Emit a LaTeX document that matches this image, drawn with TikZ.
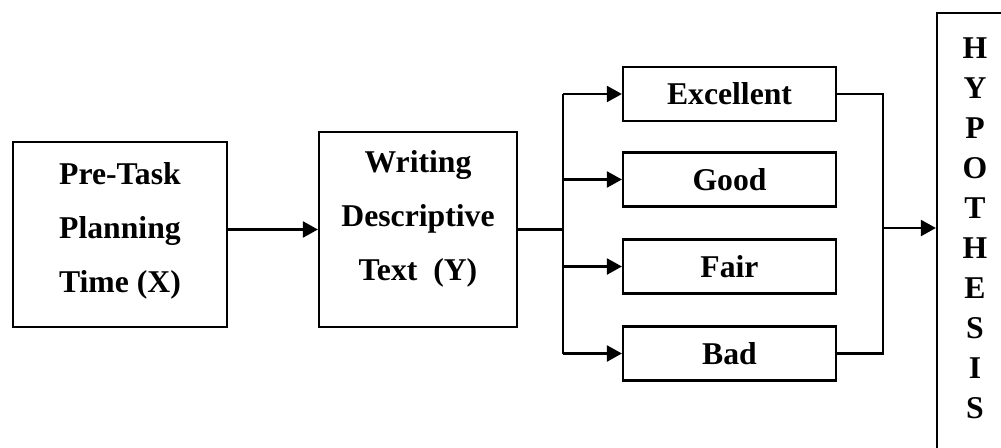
\documentclass[tikz,border=0pt]{standalone}
\usepackage{fontspec}
\setmainfont{Liberation Serif}
\usetikzlibrary{arrows.meta,calc}

\tikzset{
  box/.style={draw, line width=2.2pt, inner sep=0pt},
  lbl/.style={inner sep=0pt, align=center, font=\fontsize{31.7}{54}\selectfont\bfseries},
  wire/.style={line width=2.2pt},
  arr/.style={wire, -{Triangle[length=15pt,width=16pt]}},
}

\begin{document}
\begin{tikzpicture}[x=1pt,y=-1pt]
  \useasboundingbox (0,0) rectangle (1001,447);
  \clip (0,0) rectangle (1001,447);

  % input and outcome blocks
  \node[box, minimum width=214pt, minimum height=185pt] (pre) at (120,234.5) {};
  \node[lbl] (preT) at (120,231) {Pre-Task\\Planning\\Time (X)};

  \node[box, minimum width=198pt, minimum height=195pt] (wri) at (418,229.5) {};
  \node[lbl] (wriT) at (418,219) {Writing\\Descriptive\\Text\ \ (Y)};

  % rating categories
  \node[box, minimum width=213pt, minimum height=54pt] (exc) at (729.5,94) {};
  \node[box, minimum width=213pt, minimum height=54pt] (goo) at (729.5,179.5) {};
  \node[box, minimum width=213pt, minimum height=54pt] (fai) at (729.5,266.5) {};
  \node[box, minimum width=213pt, minimum height=54pt] (bad) at (729.5,353.5) {};
  \node[lbl] (excT) at (729.5,94) {Excellent};
  \node[lbl] (gooT) at (729.5,180) {Good};
  \node[lbl] (faiT) at (729.5,266.5) {Fair};
  \node[lbl] (badT) at (729.5,353.5) {Bad};

  % hypothesis column (runs past the page edge)
  \node[box, minimum width=110pt, minimum height=460pt] (hyp) at (992,243) {};
  \node[lbl, font=\fontsize{31.7}{40}\selectfont\bfseries] (hypT) at (975,228)
    {H\\Y\\P\\O\\T\\H\\E\\S\\I\\S};

  % bus lines
  \coordinate (busL) at (563,229.5);
  \coordinate (busR) at (883,228);

  \draw[arr] (pre.east |- wri.west) -- (wri.west);
  \draw[wire] (wri.east) -- (busL);
  \draw[wire] (busL |- exc.west) -- (busL |- bad.west);
  \draw[arr] (busL |- exc.west) -- (exc.west);
  \draw[arr] (busL |- goo.west) -- (goo.west);
  \draw[arr] (busL |- fai.west) -- (fai.west);
  \draw[arr] (busL |- bad.west) -- (bad.west);

  \draw[wire] (exc.east) -- (exc.east -| busR) -- (bad.east -| busR) -- (bad.east);
  \draw[arr] (busR) -- (busR -| hyp.west);
\end{tikzpicture}
\end{document}
